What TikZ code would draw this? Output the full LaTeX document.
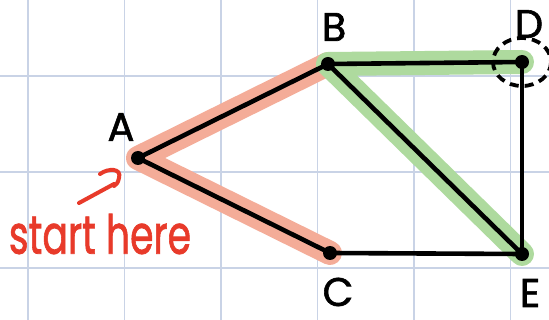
\documentclass[tikz,border=0pt]{standalone}
\usepackage{fontspec}
\setmainfont{Poppins}
\newfontfamily\handfont[FakeBold=1.5]{Poppins}
\usepackage{tikz}
\usetikzlibrary{arrows.meta}
\definecolor{cgrid}{HTML}{C9D3E6}
\definecolor{cred}{HTML}{E83A2A}
\definecolor{csalmon}{HTML}{F4AC98}
\definecolor{cgreen}{HTML}{AEDA9E}

\begin{document}
\begin{tikzpicture}[x=1pt,y=-1pt,
  pt/.style={circle,fill=black,inner sep=0pt,minimum size=12pt},
  lbl/.style={font=\handfont\fontsize{40}{40}\selectfont},
  edge/.style={line width=4.6pt,black,line cap=round},
  hlred/.style={line width=24pt,csalmon,line cap=round,line join=round},
  hlgreen/.style={line width=24pt,cgreen,line cap=round,line join=round},
  gridline/.style={cgrid,line width=1.6pt}]

  \useasboundingbox (0,0) rectangle (549,320);
  \fill[white] (0,0) rectangle (549,320);

  % grid
  \foreach \gx in {28,124.5,221,317.5,414,510.5}
    \draw[gridline] (\gx,0) -- (\gx,320);
  \foreach \gy in {76,172,268}
    \draw[gridline] (0,\gy) -- (549,\gy);

  % vertices
  \node[pt] (a) at (138,158) {};
  \node[pt] (b) at (328,64) {};
  \node[pt] (c) at (330,253) {};
  \node[pt] (d) at (522,62) {};
  \node[pt] (e) at (522,254) {};

  % labels
  \node[lbl] (la) at (121,127) {A};
  \node[lbl] (lb) at (334,27) {B};
  \node[lbl] (lc) at (338,292) {C};
  \node[lbl] (ld) at (529,24) {D};
  \node[lbl] (le) at (530,293) {E};

  % highlighted paths
  \draw[hlred] (b.center) -- (a.center) -- (c.center);
  \draw[hlgreen] (d.center) -- (b.center) -- (e.center);

  % edges
  \draw[edge] (a) -- (b);
  \draw[edge] (a) -- (c);
  \draw[edge] (b) -- (d);
  \draw[edge] (b) -- (e);
  \draw[edge] (c) -- (e);
  \draw[edge] (d) -- (e);
  \foreach \v in {a,b,c,d,e}
    \fill (\v) circle [radius=7];

  % end marker
  \draw[line width=3.8pt,dash pattern=on 9pt off 6pt] (d.center) ellipse [x radius=29, y radius=24];

  % start note
  \node[cred,font=\handfont\fontsize{54}{54}\selectfont,xscale=0.7] (start) at (100,234) {start here};
  \coordinate (tip) at (114,184);
  \draw[cred,line width=4pt,line cap=round] (79,203) -- (tip);
  \draw[cred,line width=4pt,line cap=round] (100,174)
    .. controls (108,168) and (122,168) .. (119,178)
    .. controls (118,183) and (116,185) .. (114,186);
\end{tikzpicture}
\end{document}
